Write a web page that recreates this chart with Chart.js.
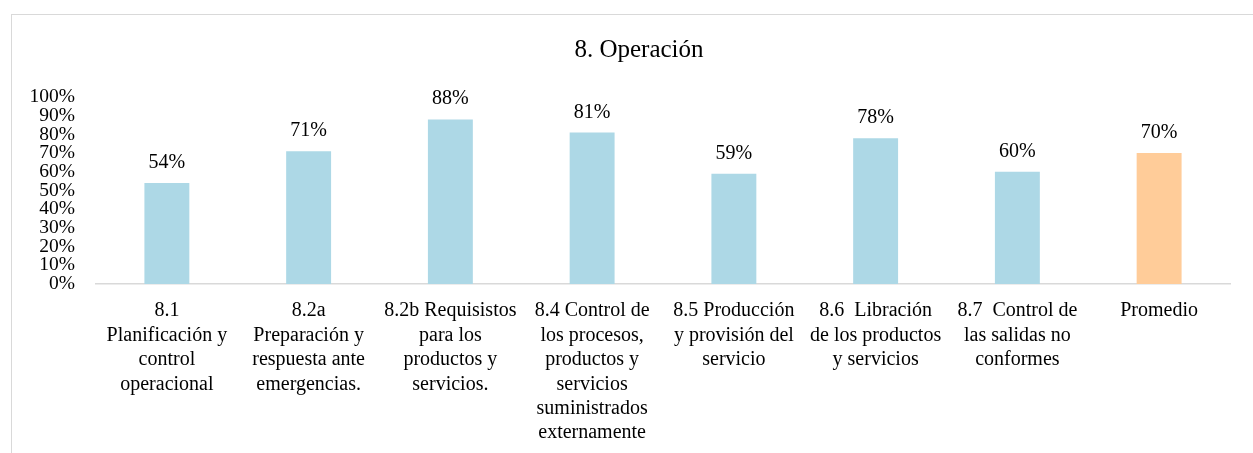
<!DOCTYPE html>
<html>
<head>
<meta charset="utf-8">
<script src="https://cdn.jsdelivr.net/npm/chart.js@4.4.0/dist/chart.umd.min.js"></script>
<style>
  html, body { margin: 0; padding: 0; background: #fff; overflow: hidden; width: 1253px; height: 453px; }
  #frame {
    position: absolute; left: 11px; top: 14px;
    width: 1254px; height: 460px;
    border: 1px solid #d9d9d9;
  }
  canvas { display: block; }
</style>
</head>
<body>
<div id="frame"><canvas id="chart" width="1254" height="460"></canvas></div>
<script>
// Data
const categories = [
  ["8.1", "Planificación y", "control", "operacional"],
  ["8.2a", "Preparación y", "respuesta ante", "emergencias."],
  ["8.2b Requisistos", "para los", "productos y", "servicios."],
  ["8.4 Control de", "los procesos,", "productos y", "servicios", "suministrados", "externamente"],
  ["8.5 Producción", "y provisión del", "servicio"],
  ["8.6  Libración", "de los productos", "y servicios"],
  ["8.7  Control de", "las salidas no", "conformes"],
  ["Promedio"]
];
const values = [0.54, 0.71, 0.88, 0.81, 0.59, 0.78, 0.60, 0.70];
const barColors = ["#add8e6", "#add8e6", "#add8e6", "#add8e6", "#add8e6", "#add8e6", "#add8e6", "#ffcc99"];

const serif = "'Liberation Serif', 'Times New Roman', serif";

// Percentage labels above the bars
const valueLabels = {
  id: "valueLabels",
  afterDatasetsDraw(chart) {
    const ctx = chart.ctx;
    const meta = chart.getDatasetMeta(0);
    ctx.save();
    ctx.font = "20px " + serif;
    ctx.fillStyle = "#000";
    ctx.textAlign = "center";
    ctx.textBaseline = "alphabetic";
    meta.data.forEach((bar, i) => {
      ctx.fillText(Math.round(values[i] * 100) + "%", bar.x, bar.y - 15);
    });
    ctx.restore();
  }
};

new Chart(document.getElementById("chart"), {
  type: "bar",
  data: {
    labels: categories,
    datasets: [{
      data: values,
      backgroundColor: barColors,
      borderWidth: 0,
      categoryPercentage: 1,
      barPercentage: 0.317
    }]
  },
  options: {
    responsive: false,
    animation: false,
    layout: { padding: 0 },
    plugins: {
      legend: { display: false },
      tooltip: { enabled: false },
      title: {
        display: true,
        text: "8. Operación",
        color: "#000",
        font: { family: serif, size: 25, weight: "normal", lineHeight: 1.2 },
        padding: { top: 20, bottom: 32 }
      }
    },
    scales: {
      x: {
        grid: { display: false, drawTicks: false },
        border: { display: true, color: "#d9d9d9", width: 1.5 },
        ticks: {
          color: "#000",
          font: { family: serif, size: 20, lineHeight: "24.4px" },
          padding: 15,
          maxRotation: 0,
          autoSkip: false
        },
        afterFit(scale) { scale.height = 191; }
      },
      y: {
        min: 0,
        max: 1,
        grid: { display: false, drawTicks: false },
        border: { display: false },
        ticks: {
          stepSize: 0.1,
          autoSkip: false,
          color: "#000",
          font: { family: serif, size: 19.5 },
          padding: 21,
          callback: (v) => Math.round(v * 100) + "%"
        },
        afterFit(scale) { scale.width = 84; }
      },
      // empty right margin so the title centres over the whole chart box
      yRight: {
        position: "right",
        grid: { display: false, drawTicks: false },
        border: { display: false },
        ticks: { display: false },
        afterFit(scale) { scale.width = 36; }
      }
    }
  },
  plugins: [valueLabels]
});
</script>
</body>
</html>
